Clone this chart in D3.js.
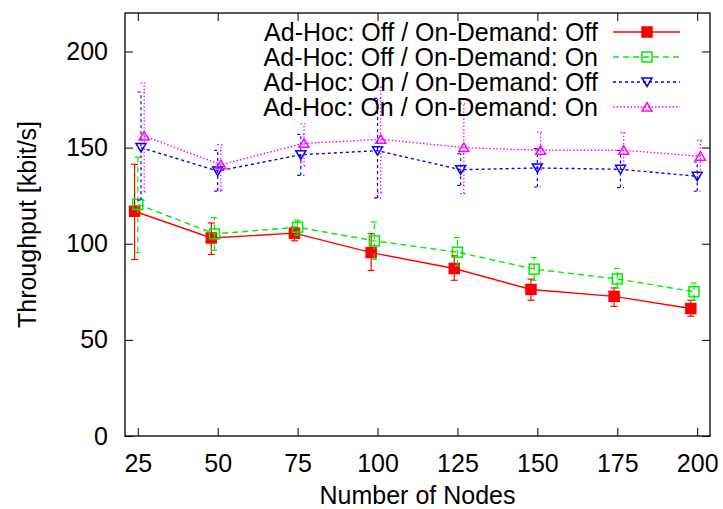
<!DOCTYPE html>
<html>
<head>
<meta charset="utf-8">
<script src="https://cdn.jsdelivr.net/npm/d3@7"></script>
<style>
  html, body { margin: 0; padding: 0; background: #fff; }
  svg text { font-family: "Liberation Sans", Arial, sans-serif; fill: #000; }
</style>
</head>
<body>
<svg id="chart" width="723" height="509"></svg>
<script>
// Throughput vs. number of nodes, four Ad-Hoc / On-Demand configurations.
const seriesNames = [
  "Ad-Hoc: Off / On-Demand: Off",
  "Ad-Hoc: Off / On-Demand: On",
  "Ad-Hoc: On / On-Demand: Off",
  "Ad-Hoc: On / On-Demand: On"
];

const xTicks = [25, 50, 75, 100, 125, 150, 175, 200];
const yTicks = [0, 50, 100, 150, 200];

// node counts per series (each series is plotted slightly shifted)
const nodesOffOff = [24, 48, 74, 98, 124, 148, 174, 198];
const nodesOffOn  = [25, 49, 75, 99, 125, 149, 175, 199];
const nodesOnOff  = [26, 50, 76, 100, 126, 150, 176, 200];
const nodesOnOn   = [27, 51, 77, 101, 127, 151, 177, 201];

// mean throughput [kbit/s]
const meanOffOff = [116.9, 103.0, 105.5, 95.4, 87.1, 76.2, 72.6, 66.3];
const meanOffOn  = [120.5, 105.1, 108.6, 101.5, 95.6, 86.8, 81.7, 75.0];
const meanOnOff  = [150.0, 137.8, 146.3, 148.4, 138.5, 139.4, 138.7, 135.1];
const meanOnOn   = [156.0, 141.1, 152.2, 154.3, 150.0, 148.6, 148.6, 145.5];

// error bar lower / upper bounds
const lowOffOff  = [91.8, 94.4, 101.5, 86.1, 81.0, 70.6, 67.4, 62.3];
const highOffOff = [141.3, 110.8, 108.7, 105.3, 93.7, 81.6, 77.0, 70.6];
const lowOffOn   = [95.4, 96.6, 104.4, 91.9, 88.5, 81.0, 77.0, 70.6];
const highOffOn  = [145.0, 113.6, 112.2, 111.3, 103.2, 92.8, 87.1, 79.6];
const lowOnOff   = [122.6, 127.4, 135.6, 123.8, 130.4, 129.5, 129.2, 127.3];
const highOnOff  = [178.9, 148.6, 156.9, 175.6, 146.8, 149.5, 148.5, 142.5];
const lowOnOn    = [127.0, 127.8, 140.4, 126.4, 126.1, 138.5, 139.0, 136.5];
const highOnOn   = [183.5, 151.5, 162.4, 181.5, 172.8, 158.0, 157.8, 153.8];

const series = [
  { name: seriesNames[0], x: nodesOffOff, y: meanOffOff, lo: lowOffOff, hi: highOffOff,
    color: "#ff0000", dash: null, marker: "filledSquare" },
  { name: seriesNames[1], x: nodesOffOn, y: meanOffOn, lo: lowOffOn, hi: highOffOn,
    color: "#00ee00", dash: "6,4", marker: "square" },
  { name: seriesNames[2], x: nodesOnOff, y: meanOnOff, lo: lowOnOff, hi: highOnOff,
    color: "#0000ff", dash: "3,3", marker: "triangleDown" },
  { name: seriesNames[3], x: nodesOnOn, y: meanOnOn, lo: lowOnOn, hi: highOnOn,
    color: "#ff00ff", dash: "1.5,2", marker: "triangleUp" }
];

const W = 723, H = 509;
const margin = { left: 125, right: 13, top: 13, bottom: 73 };
const plotW = W - margin.left - margin.right;
const plotH = H - margin.top - margin.bottom;

const svg = d3.select("#chart");
const g = svg.append("g").attr("transform", `translate(${margin.left},${margin.top})`);

const x = d3.scaleLinear().domain([21, 204]).range([0, plotW]);
const y = d3.scaleLinear().domain([0, 220]).range([plotH, 0]);

const FONT = 25;

// axes with inward ticks on all four sides
const tickLen = 8;
g.append("g").attr("transform", `translate(0,${plotH})`)
  .call(d3.axisBottom(x).tickValues(xTicks).tickSize(-tickLen).tickPadding(18))
  .call(a => a.select(".domain").remove())
  .call(a => a.selectAll("text").attr("font-size", FONT).attr("dy", "0.71em"));
g.append("g")
  .call(d3.axisTop(x).tickValues(xTicks).tickSize(-tickLen).tickFormat(""))
  .call(a => a.select(".domain").remove());
g.append("g")
  .call(d3.axisLeft(y).tickValues(yTicks).tickSize(-tickLen).tickPadding(17))
  .call(a => a.select(".domain").remove())
  .call(a => a.selectAll("text").attr("font-size", FONT));
g.append("g").attr("transform", `translate(${plotW},0)`)
  .call(d3.axisRight(y).tickValues(yTicks).tickSize(-tickLen).tickFormat(""))
  .call(a => a.select(".domain").remove());
g.selectAll(".tick line").attr("stroke", "#000").attr("stroke-width", 1);
g.selectAll(".tick text").attr("font-family", "Liberation Sans, Arial, sans-serif").attr("fill", "#000");

// frame
g.append("rect").attr("x", 0).attr("y", 0).attr("width", plotW).attr("height", plotH)
  .attr("fill", "none").attr("stroke", "#000").attr("stroke-width", 1.3);

// axis titles
svg.append("text")
  .attr("x", margin.left + plotW / 2).attr("y", 504)
  .attr("text-anchor", "middle").attr("font-size", FONT)
  .text("Number of Nodes");
svg.append("text")
  .attr("transform", `translate(36,${margin.top + plotH / 2}) rotate(-90)`)
  .attr("text-anchor", "middle").attr("font-size", FONT)
  .text("Throughput [kbit/s]");

function drawMarker(sel, type, color) {
  const s = 5;
  if (type === "filledSquare" || type === "square") {
    sel.append("rect").attr("x", -s).attr("y", -s).attr("width", 2 * s).attr("height", 2 * s)
      .attr("fill", type === "filledSquare" ? color : "none")
      .attr("stroke", color).attr("stroke-width", 1.5);
  } else if (type === "triangleDown") {
    sel.append("path").attr("d", `M${-s},${-s * 0.8}L${s},${-s * 0.8}L0,${s * 0.9}Z`)
      .attr("fill", "none").attr("stroke", color).attr("stroke-width", 1.5);
  } else {
    sel.append("path").attr("d", `M${-s},${s * 0.8}L${s},${s * 0.8}L0,${-s * 0.9}Z`)
      .attr("fill", "none").attr("stroke", color).attr("stroke-width", 1.5);
  }
}

const line = d3.line().x(d => x(d.x)).y(d => y(d.y));
const capW = 3.5;

series.forEach(s => {
  const pts = s.x.map((v, i) => ({ x: v, y: s.y[i], lo: s.lo[i], hi: s.hi[i] }));
  const sg = g.append("g");
  // error bars
  pts.forEach(p => {
    const eb = sg.append("g").attr("stroke", s.color).attr("stroke-width", 1.2)
      .attr("stroke-dasharray", s.dash);
    eb.append("line").attr("x1", x(p.x)).attr("x2", x(p.x)).attr("y1", y(p.lo)).attr("y2", y(p.hi));
    eb.append("line").attr("x1", x(p.x) - capW).attr("x2", x(p.x) + capW).attr("y1", y(p.lo)).attr("y2", y(p.lo));
    eb.append("line").attr("x1", x(p.x) - capW).attr("x2", x(p.x) + capW).attr("y1", y(p.hi)).attr("y2", y(p.hi));
  });
  sg.append("path").datum(pts).attr("d", line)
    .attr("fill", "none").attr("stroke", s.color).attr("stroke-width", 1.4)
    .attr("stroke-dasharray", s.dash);
  pts.forEach(p => {
    drawMarker(sg.append("g").attr("transform", `translate(${x(p.x)},${y(p.y)})`), s.marker, s.color);
  });
});

// legend
const legendRowY = [32, 57, 82, 107];
series.forEach((s, i) => {
  const ly = legendRowY[i];
  svg.append("text").attr("x", 598).attr("y", ly).attr("dy", "0.35em")
    .attr("text-anchor", "end").attr("font-size", FONT).text(s.name);
  svg.append("line").attr("x1", 613).attr("x2", 680).attr("y1", ly).attr("y2", ly)
    .attr("stroke", s.color).attr("stroke-width", 1.4).attr("stroke-dasharray", s.dash);
  drawMarker(svg.append("g").attr("transform", `translate(647,${ly})`), s.marker, s.color);
});
</script>
</body>
</html>
